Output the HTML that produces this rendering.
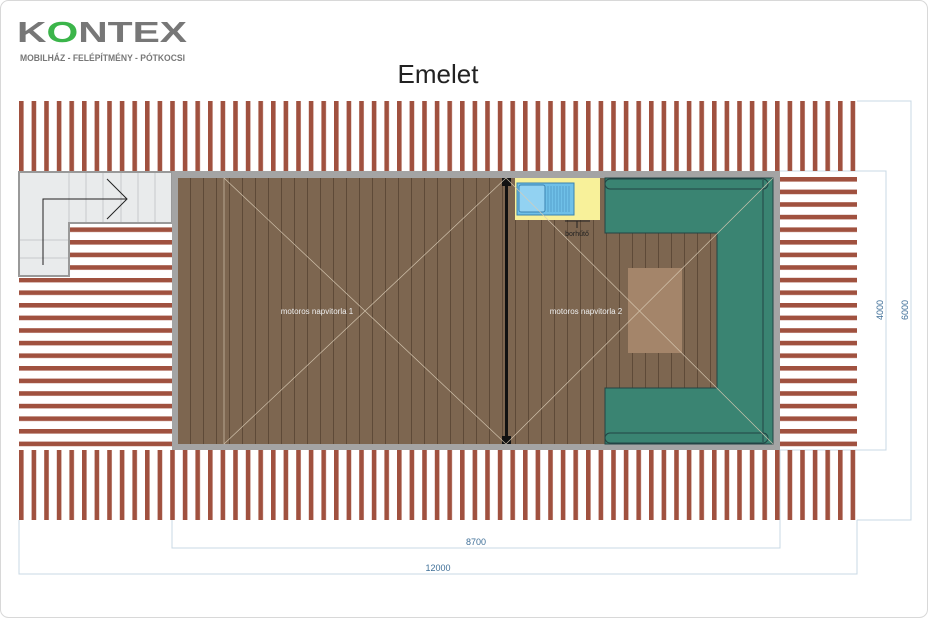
<!DOCTYPE html>
<html><head><meta charset="utf-8"><style>
html,body{margin:0;padding:0;background:#fff;}
svg{display:block}
</style></head><body>
<svg width="928" height="618" viewBox="0 0 928 618" xmlns="http://www.w3.org/2000/svg">
<defs>
<pattern id="vs" x="19" y="0" width="12.6" height="10" patternUnits="userSpaceOnUse">
<rect x="0" y="0" width="4.6" height="10" fill="#a0513f"/></pattern>
<pattern id="hs" x="0" y="177" width="10" height="12.6" patternUnits="userSpaceOnUse">
<rect x="0" y="0" width="10" height="4.6" fill="#a0513f"/></pattern>
<pattern id="pl" x="178" y="0" width="13" height="10" patternUnits="userSpaceOnUse">
<rect width="13" height="10" fill="#7d6650"/><rect x="12" width="1" height="10" fill="#5e4a38"/></pattern>
</defs>
<rect x="0.5" y="0.5" width="927" height="617" rx="8" fill="#fff" stroke="#d8d8d8"/>
<!-- logo -->
<text x="17" y="42" font-family="Liberation Sans, sans-serif" font-weight="bold" font-size="29" fill="#777" textLength="170" lengthAdjust="spacingAndGlyphs">K<tspan fill="#3bb54a">O</tspan>NTEX</text>
<text x="20" y="61" font-family="Liberation Sans, sans-serif" font-size="9" font-weight="bold" fill="#777" textLength="165" lengthAdjust="spacingAndGlyphs">MOBILHÁZ - FELÉPÍTMÉNY - PÓTKOCSI</text>
<text x="438" y="83" text-anchor="middle" font-family="Liberation Sans, sans-serif" font-size="26" fill="#222">Emelet</text>
<!-- dimension lines -->
<g stroke="#c8d8e4" fill="none" stroke-width="1">
<path d="M857 101H911V520H857"/>
<path d="M780 171H886V450H780"/>
<path d="M172 450V548H780V450"/>
<path d="M19 520V574H857V520"/>
</g>
<g font-family="Liberation Sans, sans-serif" font-size="9" fill="#3f6f98">
<text x="476" y="545" text-anchor="middle">8700</text>
<text x="438" y="571" text-anchor="middle">12000</text>
<text transform="translate(883,310) rotate(-90)" text-anchor="middle">4000</text>
<text transform="translate(908,310) rotate(-90)" text-anchor="middle">6000</text>
</g>
<!-- deck slats -->
<rect x="19" y="101" width="838" height="70" fill="url(#vs)"/>
<rect x="19" y="450" width="838" height="70" fill="url(#vs)"/>
<rect x="780" y="177" width="77" height="270" fill="url(#hs)"/>
<rect x="69" y="227" width="103" height="50" fill="url(#hs)"/>
<rect x="19" y="278" width="153" height="170" fill="url(#hs)"/>
<!-- stairs -->
<g fill="#e9ebec" stroke="#c6c9cb" stroke-width="1">
<rect x="19" y="172" width="153" height="51"/>
<rect x="19" y="172" width="50" height="104"/>
<path d="M69 172V223M86 172V223M103 172V223M121 172V223M138 172V223M155 172V223M19 240H69M19 258H69" fill="none"/>
</g>
<path d="M19 172H172V223H69V276H19Z" fill="none" stroke="#999" stroke-width="2"/>
<path d="M43 265V199H127M107 179L127 199L107 219" fill="none" stroke="#222" stroke-width="1"/>
<!-- building -->
<rect x="172" y="171" width="608" height="279" fill="#a4a4a4"/>
<rect x="178" y="178" width="595" height="266" fill="url(#pl)"/>
<!-- kitchen -->
<rect x="515" y="178" width="85" height="42" fill="#f8f19a"/>
<rect x="517" y="183" width="57" height="32" fill="#6fc0e8" stroke="#3a82b0"/>
<rect x="519" y="185" width="26" height="27" fill="#92d2f2" stroke="#3a82b0" rx="2"/>
<path d="M548 186V212M551 186V212M554 186V212M557 186V212M560 186V212M563 186V212M566 186V212M569 186V212" stroke="#4c93c0" stroke-width="0.7"/>
<path d="M565 221H590M577 221V228" stroke="#222"/>
<text x="577" y="236" text-anchor="middle" font-family="Liberation Sans, sans-serif" font-size="7" fill="#222">borhűtő</text>
<!-- sofa -->
<path d="M605 178H773V444H605V388H717V233H605Z" fill="#3a8472" stroke="#244" stroke-width="1"/>
<path d="M763 180V442" stroke="#244"/>
<rect x="605" y="179" width="163" height="10" rx="5" fill="none" stroke="#244"/>
<rect x="605" y="433" width="163" height="10" rx="5" fill="none" stroke="#244"/>
<rect x="628" y="268" width="54" height="85" fill="#a4856a"/>
<!-- divider -->
<rect x="505" y="178" width="3" height="266" fill="#111"/>
<rect x="502" y="178" width="9" height="8" fill="#111"/>
<rect x="502" y="436" width="9" height="8" fill="#111"/>
<!-- diagonals -->
<g stroke="#d9cbb5" stroke-width="0.7" opacity="0.9">
<path d="M224 178L506 444M224 444L506 178M506 178L773 444M506 444L773 178M224 178V444"/>
</g>
<g font-family="Liberation Sans, sans-serif" font-size="8" fill="#eee">
<text x="317" y="314" text-anchor="middle">motoros napvitorla 1</text>
<text x="586" y="314" text-anchor="middle">motoros napvitorla 2</text>
</g>
</svg>
</body></html>
